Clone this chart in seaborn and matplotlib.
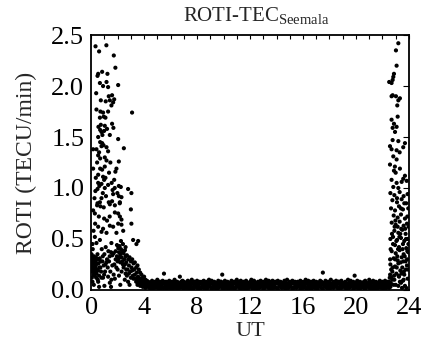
import numpy as np
import pandas as pd
import matplotlib
matplotlib.use("Agg")
import matplotlib.pyplot as plt
import seaborn as sns

# ---- data ----
dawn_ut = [0.33,1.15,0.60,1.71,1.83,0.83,0.53,0.48,1.23,0.66,1.16,0.90,1.28,2.04,0.38,1.33,1.58,1.41,1.74,1.66,
           1.53,0.73,0.40,0.90,1.28,3.09,0.66,1.08,0.73,1.03,1.58,1.68,0.68,0.98,0.78,1.41,0.53,2.04,0.68,0.83,
           0.93,0.78,0.15,0.40,1.16,1.28,2.47,0.53,0.68,1.03,1.16,2.09,0.15,0.68,0.83,1.03,1.91,1.83,0.53,0.90,
           1.08,0.98,1.74,0.53,0.78,1.28,1.03,0.48,0.32,1.78,2.09,2.24,2.79,3.04,1.66,1.98,2.09,2.29,0.78,0.66,
           0.48,1.33,1.58,2.16,
           0.45,0.70,0.95,1.41,1.79,2.17,3.00,0.15,0.28,1.79,2.04,2.17,2.29,2.04,2.29,3.04,0.53,0.90,0.78,1.16,
           1.41,1.66,1.91,2.42,1.53,3.17,3.55,3.42,0.28,0.66,0.40,
           1.95,2.05,2.15,2.25,2.35,2.10,2.20,2.45,2.55,2.60,2.30,2.70,2.80,2.50,1.85,1.70,1.50,1.30,1.60,1.40,
           1.20,1.00,
           2.90,3.00,3.10,3.20,3.30,3.40,3.50,3.60,3.70,3.80,3.90,4.00,4.10,3.25,3.45,3.15,3.05,2.95,2.85,2.75,
           2.65,2.40,2.20,2.00,1.90,1.75,3.55,3.65,3.35,
           0.02,0.05,0.08,0.10,0.12,0.15,0.18,0.20,0.22,0.25,0.28,0.30,0.32,0.35,0.38,0.40,0.42,0.45,0.48,0.50,
           0.53,0.55,0.60,0.65,0.70,0.75,0.80,0.85,0.90,0.95,1.05,1.10,1.15,1.25,1.28,1.35,1.41,1.45,1.53,1.60,
           1.70,1.79,1.85,2.00,2.10,2.30,2.54,2.79,2.60,0.05,0.10,0.03,0.12,0.20,0.60,1.00,1.50,2.20,2.90,
           0.45,0.60,0.85,0.95,1.10,0.55,0.70,1.20,0.35,0.25,0.62,1.35,1.45,1.55,1.62,0.88,1.12,1.40,1.20,0.98,
           0.58,0.30,0.18,0.10,
           0.04,0.07,0.09,0.14,0.17,0.24,0.27,0.33,0.36,0.44,0.52,0.58,0.62,0.72,0.78,0.88,0.98,1.08,
           1.95,2.05,2.15,2.35,2.45,2.55,2.65,2.70,2.85,3.00,3.10,3.20,3.30,3.40,3.50,3.60,3.70,3.75,3.85,2.40,
           2.25,2.60]
dawn_roti = [2.39,2.40,2.34,2.30,2.18,2.14,2.12,2.10,2.12,2.03,2.04,2.00,1.99,2.01,1.93,1.90,1.91,1.86,1.87,1.84,
             1.81,1.86,1.77,1.74,1.75,1.74,1.69,1.69,1.62,1.61,1.63,1.59,1.57,1.56,1.55,1.52,1.50,1.48,1.45,1.44,
             1.42,1.41,1.38,1.38,1.40,1.36,1.39,1.32,1.29,1.30,1.27,1.26,1.19,1.19,1.18,1.21,1.19,1.16,1.13,1.11,
             1.10,1.08,1.08,1.05,1.04,1.03,1.00,0.99,0.97,1.00,1.02,1.01,0.99,0.95,0.94,0.95,0.92,0.91,0.90,0.86,
             0.85,0.86,0.87,0.85,
             0.83,0.82,0.81,0.84,0.83,0.86,0.79,0.78,0.75,0.76,0.75,0.72,0.69,0.65,0.64,0.65,0.62,0.60,0.57,0.56,
             0.63,0.62,0.56,0.58,0.46,0.49,0.48,0.45,0.52,0.49,0.46,
             0.44,0.41,0.43,0.40,0.38,0.37,0.35,0.36,0.39,0.33,0.32,0.34,0.30,0.30,0.38,0.36,0.37,0.38,0.34,0.33,
             0.30,0.35,
             0.32,0.28,0.30,0.26,0.27,0.22,0.24,0.20,0.17,0.15,0.12,0.13,0.10,0.20,0.17,0.14,0.22,0.18,0.24,0.20,
             0.27,0.25,0.27,0.28,0.22,0.25,0.13,0.10,0.11,
             0.20,0.25,0.18,0.30,0.22,0.26,0.15,0.33,0.21,0.19,0.23,0.28,0.17,0.24,0.12,0.16,0.30,0.20,0.35,0.10,
             0.08,0.26,0.14,0.31,0.22,0.18,0.40,0.28,0.12,0.24,0.18,0.42,0.27,0.22,0.13,0.28,0.07,0.18,0.10,0.24,
             0.15,0.11,0.30,0.20,0.14,0.18,0.10,0.08,0.16,0.12,0.08,0.35,0.40,0.05,0.03,0.04,0.03,0.05,0.05,
             1.25,1.35,1.52,1.70,1.85,1.60,1.75,1.58,1.10,0.90,1.02,1.15,1.25,1.05,0.98,0.95,0.92,0.72,0.68,0.70,
             0.72,0.65,0.58,0.45,
             0.28,0.22,0.32,0.19,0.27,0.30,0.14,0.21,0.32,0.26,0.19,0.30,0.22,0.28,0.12,0.33,0.15,0.25,
             0.33,0.30,0.32,0.28,0.22,0.25,0.20,0.14,0.16,0.12,0.19,0.11,0.15,0.08,0.12,0.07,0.11,0.06,0.09,0.45,
             0.48,0.42]

quiet_ut = [3.5,3.6,3.7,3.8,3.9,4.0,4.1,4.2,4.3,4.4,
            4.5,4.6,4.7,4.8,4.9,5.0,5.1,5.2,5.3,5.4,
            5.5,5.6,5.7,5.8,5.9,6.0,6.1,6.2,6.3,6.4,
            6.5,6.6,6.7,6.8,6.9,7.0,7.1,7.2,7.3,7.4,
            7.5,7.6,7.7,7.8,7.9,8.0,8.1,8.2,8.3,8.4,
            8.5,8.6,8.7,8.8,8.9,9.0,9.1,9.2,9.3,9.4,
            9.5,9.6,9.7,9.8,9.9,10.0,10.1,10.2,10.3,10.4,
            10.5,10.6,10.7,10.8,10.9,11.0,11.1,11.2,11.3,11.4,
            11.5,11.6,11.7,11.8,11.9,12.0,12.1,12.2,12.3,12.4,
            12.5,12.6,12.7,12.8,12.9,13.0,13.1,13.2,13.3,13.4,
            13.5,13.6,13.7,13.8,13.9,14.0,14.1,14.2,14.3,14.4,
            14.5,14.6,14.7,14.8,14.9,15.0,15.1,15.2,15.3,15.4,
            15.5,15.6,15.7,15.8,15.9,16.0,16.1,16.2,16.3,16.4,
            16.5,16.6,16.7,16.8,16.9,17.0,17.1,17.2,17.3,17.4,
            17.5,17.6,17.7,17.8,17.9,18.0,18.1,18.2,18.3,18.4,
            18.5,18.6,18.7,18.8,18.9,19.0,19.1,19.2,19.3,19.4,
            19.5,19.6,19.7,19.8,19.9,20.0,20.1,20.2,20.3,20.4,
            20.5,20.6,20.7,20.8,20.9,21.0,21.1,21.2,21.3,21.4,
            21.5,21.6,21.7,21.8,21.9,22.0,22.1,22.2,22.3,22.4,
            22.5,22.6]
quiet_roti_lo = [0.05,0.08,0.04,0.06,0.03,0.05,0.02,0.04,0.03,0.02,
                 0.03,0.01,0.04,0.02,0.03,0.02,0.04,0.01,0.03,0.02,
                 0.02,0.04,0.01,0.03,0.02,0.03,0.01,0.04,0.02,0.03,
                 0.01,0.03,0.02,0.04,0.02,0.01,0.03,0.02,0.04,0.01,
                 0.03,0.02,0.01,0.04,0.03,0.02,0.03,0.01,0.02,0.04,
                 0.02,0.03,0.01,0.02,0.04,0.03,0.01,0.03,0.02,0.04,
                 0.01,0.02,0.03,0.04,0.02,0.01,0.03,0.02,0.03,0.01,
                 0.04,0.02,0.03,0.01,0.02,0.04,0.03,0.02,0.01,0.03,
                 0.02,0.04,0.01,0.03,0.02,0.03,0.04,0.01,0.02,0.03,
                 0.01,0.03,0.02,0.04,0.03,0.01,0.02,0.03,0.04,0.02,
                 0.03,0.01,0.04,0.02,0.03,0.02,0.01,0.04,0.03,0.02,
                 0.04,0.02,0.01,0.03,0.02,0.04,0.03,0.01,0.02,0.03,
                 0.02,0.03,0.04,0.01,0.03,0.02,0.04,0.02,0.01,0.03,
                 0.03,0.01,0.02,0.04,0.02,0.03,0.01,0.03,0.04,0.02,
                 0.01,0.04,0.03,0.02,0.03,0.01,0.02,0.04,0.02,0.03,
                 0.04,0.02,0.01,0.03,0.02,0.04,0.03,0.02,0.01,0.03,
                 0.02,0.03,0.04,0.01,0.02,0.03,0.02,0.04,0.01,0.03,
                 0.03,0.02,0.01,0.04,0.03,0.02,0.04,0.01,0.03,0.02,
                 0.01,0.03,0.02,0.04,0.02,0.03,0.01,0.03,0.02,0.04,
                 0.02,0.03]
quiet_roti_mid = [0.08,0.07,0.09,0.06,0.08,0.05,0.07,0.06,0.08,0.05,
                  0.06,0.07,0.05,0.06,0.08,0.05,0.08,0.06,0.05,0.07,
                  0.06,0.08,0.05,0.07,0.06,0.05,0.07,0.06,0.05,0.08,
                  0.07,0.05,0.06,0.08,0.05,0.06,0.07,0.05,0.06,0.07,
                  0.05,0.07,0.06,0.08,0.05,0.06,0.05,0.07,0.06,0.08,
                  0.07,0.05,0.06,0.05,0.07,0.06,0.08,0.07,0.06,0.05,
                  0.06,0.07,0.05,0.08,0.07,0.05,0.06,0.07,0.05,0.06,
                  0.07,0.06,0.05,0.07,0.08,0.05,0.07,0.06,0.05,0.07,
                  0.06,0.05,0.08,0.06,0.05,0.07,0.06,0.05,0.07,0.06,
                  0.05,0.07,0.06,0.08,0.07,0.06,0.05,0.07,0.06,0.05,
                  0.07,0.06,0.05,0.07,0.06,0.08,0.07,0.06,0.05,0.07,
                  0.06,0.05,0.07,0.06,0.05,0.07,0.06,0.08,0.07,0.06,
                  0.05,0.07,0.06,0.05,0.08,0.06,0.05,0.07,0.06,0.05,
                  0.07,0.06,0.05,0.07,0.06,0.05,0.07,0.06,0.08,0.07,
                  0.06,0.05,0.07,0.06,0.05,0.07,0.06,0.05,0.07,0.06,
                  0.05,0.07,0.08,0.05,0.07,0.06,0.05,0.07,0.06,0.05,
                  0.07,0.06,0.05,0.07,0.06,0.05,0.08,0.06,0.05,0.07,
                  0.06,0.05,0.07,0.06,0.05,0.07,0.06,0.08,0.07,0.06,
                  0.05,0.07,0.06,0.05,0.07,0.06,0.05,0.07,0.06,0.05,
                  0.07,0.06]
quiet_roti_hi = [0.12,0.10,0.09,0.11,0.08,0.10,0.07,0.09,0.08,0.06,
                 0.07,0.09,0.06,0.08,0.07,0.10,0.06,0.08,0.07,0.09,
                 0.16,0.06,0.08,0.07,0.09,0.06,0.08,0.07,0.10,0.06,
                 0.08,0.07,0.13,0.06,0.09,0.08,0.07,0.06,0.09,0.08,
                 0.07,0.10,0.06,0.08,0.07,0.09,0.06,0.08,0.07,0.06,
                 0.09,0.07,0.08,0.06,0.10,0.07,0.09,0.06,0.08,0.07,
                 0.06,0.09,0.07,0.08,0.15,0.06,0.09,0.07,0.08,0.06,
                 0.07,0.09,0.06,0.08,0.07,0.10,0.06,0.08,0.09,0.07,
                 0.08,0.06,0.09,0.07,0.06,0.08,0.10,0.07,0.09,0.06,
                 0.07,0.08,0.06,0.09,0.07,0.08,0.06,0.10,0.07,0.09,
                 0.08,0.07,0.09,0.06,0.08,0.07,0.09,0.06,0.08,0.07,
                 0.06,0.09,0.07,0.10,0.06,0.08,0.07,0.09,0.06,0.08,
                 0.07,0.08,0.06,0.09,0.07,0.06,0.08,0.10,0.07,0.09,
                 0.06,0.08,0.07,0.09,0.06,0.08,0.07,0.06,0.09,0.08,
                 0.17,0.07,0.09,0.06,0.08,0.07,0.10,0.06,0.08,0.07,
                 0.09,0.06,0.08,0.07,0.09,0.06,0.07,0.08,0.06,0.10,
                 0.07,0.09,0.06,0.08,0.14,0.07,0.09,0.06,0.08,0.07,
                 0.06,0.08,0.09,0.07,0.06,0.10,0.08,0.07,0.09,0.06,
                 0.08,0.07,0.06,0.09,0.07,0.08,0.06,0.09,0.07,0.08,
                 0.06,0.07]

dusk_ut = [23.20,23.02,23.07,22.87,22.82,22.77,22.69,22.51,22.77,22.69,23.02,23.20,23.32,23.12,22.69,22.87,22.77,23.07,22.77,23.20,
           23.70,22.57,22.69,23.07,23.57,22.82,23.07,22.57,22.94,23.32,22.87,23.70,23.57,23.45,23.83,22.69,23.07,22.82,23.20,
           22.60,22.90,23.30,23.60,23.90,22.75,23.10,23.45,23.80,22.65,22.95,23.25,23.55,23.95,22.85,23.15,23.40,23.70,22.70,23.00,
           23.30,23.60,23.85,22.90,23.20,23.50,23.75,22.60,22.80,23.10,23.40,23.65,23.90,22.95,23.25,23.55,23.80,22.70,23.00,23.30,
           23.60,23.95,22.85,23.15,23.45,23.75,22.60,22.95,23.20,23.50,23.85,22.75,23.05,23.35,23.65,22.55,22.90,23.25,23.55,23.90,
           22.65,23.00,23.40,23.70,23.80,22.50,22.58,22.68,22.78,22.88,23.12,23.38,23.62,23.72,23.88,23.15,22.98,23.35,23.52,23.68,
           23.92,23.48,23.20,
           22.62,22.72,22.80,22.92,23.05,23.18,23.28,23.42,23.58,23.78,23.88,23.98,22.58,22.66,22.74,22.84,22.96,23.08,23.22,23.32,
           23.44,23.60,23.76,23.86,23.96,23.10,23.40,23.65,23.00,23.30,22.95,23.15]
dusk_roti = [2.42,2.35,2.20,2.12,2.09,2.06,2.03,2.04,1.91,1.90,1.90,1.86,1.88,1.81,1.67,1.63,1.59,1.60,1.47,1.46,
             1.44,1.41,1.38,1.37,1.40,1.31,1.28,1.23,1.21,1.19,1.17,1.12,1.09,1.06,1.07,1.08,1.05,1.01,1.00,
             0.95,0.93,0.96,0.92,0.94,0.88,0.86,0.89,0.85,0.80,0.78,0.82,0.79,0.80,0.73,0.71,0.74,0.70,0.66,0.64,
             0.67,0.63,0.65,0.58,0.56,0.59,0.55,0.50,0.52,0.49,0.51,0.48,0.50,0.44,0.42,0.45,0.41,0.38,0.36,0.39,
             0.35,0.37,0.31,0.29,0.32,0.28,0.25,0.23,0.26,0.22,0.24,0.18,0.16,0.19,0.15,0.12,0.10,0.13,0.09,0.11,
             0.06,0.05,0.07,0.04,0.02,0.08,0.15,0.12,0.22,0.14,0.33,0.27,0.18,0.60,0.72,0.62,0.68,0.55,0.40,0.33,
             0.20,0.02,0.04,
             0.40,0.55,0.45,0.62,0.48,0.40,0.52,0.60,0.28,0.50,0.38,0.62,0.30,0.20,0.10,0.05,0.30,0.22,0.14,0.08,
             0.16,0.10,0.20,0.30,0.45,0.90,0.80,0.85,1.15,1.35,1.55,1.70]

# ---- tidy frame ----
df = pd.concat([
    pd.DataFrame({"UT": dawn_ut, "ROTI": dawn_roti}),
    pd.DataFrame({"UT": quiet_ut, "ROTI": quiet_roti_lo}),
    pd.DataFrame({"UT": quiet_ut, "ROTI": quiet_roti_mid}),
    pd.DataFrame({"UT": quiet_ut, "ROTI": quiet_roti_hi}),
    pd.DataFrame({"UT": dusk_ut, "ROTI": dusk_roti}),
], ignore_index=True)

sns.set_style("white")
plt.rcParams["font.family"] = ["Liberation Serif", "DejaVu Serif"]
plt.rcParams["mathtext.fontset"] = "custom"
plt.rcParams["mathtext.rm"] = "Liberation Serif"

fig = plt.figure(figsize=(4.22, 3.51), dpi=100)
ax = fig.add_axes([0.216, 0.174, 0.753, 0.726])

sns.scatterplot(data=df, x="UT", y="ROTI", ax=ax, color="black", s=9,
                linewidth=0, edgecolor="none", legend=False, clip_on=True)

ax.set_xlim(0, 24)
ax.set_ylim(0, 2.5)
ax.set_xticks([0, 4, 8, 12, 16, 20, 24])
ax.set_yticks([0.0, 0.5, 1.0, 1.5, 2.0, 2.5])
ax.set_yticklabels(["0.0", "0.5", "1.0", "1.5", "2.0", "2.5"])
ax.tick_params(axis="both", which="major", direction="inout", length=8, width=1,
               labelsize=19, colors="black", pad=1)

for sp in ax.spines.values():
    sp.set_color("black")
    sp.set_linewidth(1.3)

top = ax.secondary_xaxis("top")
top.set_xticks(list(range(0, 25)))
top.tick_params(direction="in", length=3, width=0.8, labeltop=False, colors="black")
top.spines["top"].set_visible(False)
right = ax.secondary_yaxis("right")
right.set_yticks([0.0, 0.5, 1.0, 1.5, 2.0, 2.5])
right.tick_params(direction="in", length=4, width=0.8, labelright=False, colors="black")
right.spines["right"].set_visible(False)

ax.set_xlabel("UT", fontsize=16, labelpad=2)
ax.set_ylabel("ROTI (TECU/min)", fontsize=17, labelpad=10)
ax.set_title(r"ROTI-TEC$_{\mathrm{Seemala}}$", fontsize=15, pad=10, x=0.52)

fig.savefig("out.png", dpi=100)
